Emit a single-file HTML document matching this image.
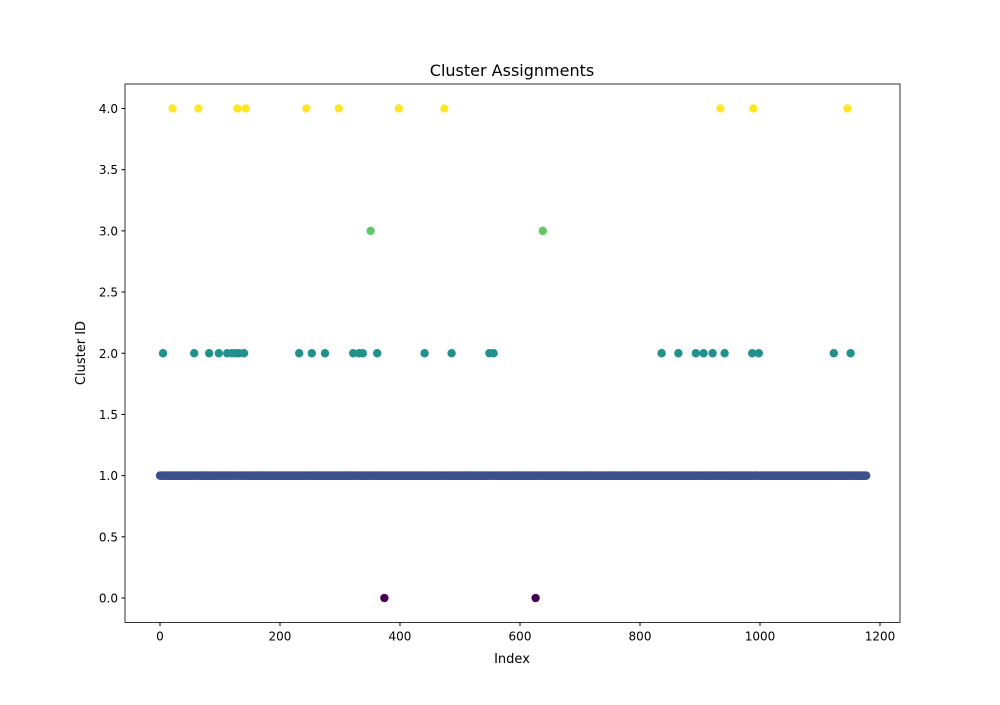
<!DOCTYPE html>
<html><head><meta charset="utf-8"><style>
body{margin:0;background:#fff;}
svg text{font-family:"DejaVu Sans","Liberation Sans",sans-serif;fill:#000;}
</style></head><body>
<svg id="chart" width="1000" height="700" xmlns="http://www.w3.org/2000/svg">
<rect width="1000" height="700" fill="#fff"/>
<text x="512" y="76" text-anchor="middle" font-size="16">Cluster Assignments</text>
<g id="points"></g>
<g id="axes"></g>
<text x="512" y="663" text-anchor="middle" font-size="13">Index</text>
<text transform="translate(85,353) rotate(-90)" text-anchor="middle" font-size="13">Cluster ID</text>
</svg>
<script>
const nPoints = 1178;
const defaultCluster = 1;
const cluster4Idx = [21,64,129,143,244,298,398,474,934,989,1146];
const cluster3Idx = [351,638];
const cluster2Idx = [5,57,82,98,112,120,127,132,140,232,253,275,322,332,338,362,441,486,549,556,836,864,893,906,921,941,987,998,1123,1151];
const cluster0Idx = [374,626];
const xTicks = [0,200,400,600,800,1000,1200];
const yTicks = [0,0.5,1,1.5,2,2.5,3,3.5,4];
const colors = ['#440154','#3b528b','#21918c','#5ec962','#fde725'];

const L=125,R=900,T=84,B=622.5;
const xmin=-58.33,xmax=1233.33,ymin=-0.2,ymax=4.2;
const X=v=>L+(v-xmin)/(xmax-xmin)*(R-L);
const Y=v=>B-(v-ymin)/(ymax-ymin)*(B-T);
const NS='http://www.w3.org/2000/svg';
const labels=new Array(nPoints).fill(defaultCluster);
cluster2Idx.forEach(i=>labels[i]=2);
cluster4Idx.forEach(i=>labels[i]=4);
cluster3Idx.forEach(i=>labels[i]=3);
cluster0Idx.forEach(i=>labels[i]=0);
const pg=document.getElementById('points');
for(let i=0;i<nPoints;i++){
  const c=document.createElementNS(NS,'circle');
  c.setAttribute('cx',X(i));c.setAttribute('cy',Y(labels[i]));c.setAttribute('r',4.2);
  c.setAttribute('fill',colors[labels[i]]);
  
  
  pg.appendChild(c);
}
const ag=document.getElementById('axes');
const fr=document.createElementNS(NS,'rect');
fr.setAttribute('x',L);fr.setAttribute('y',T);fr.setAttribute('width',R-L);fr.setAttribute('height',B-T);
fr.setAttribute('fill','none');fr.setAttribute('stroke','#000');fr.setAttribute('stroke-width','0.8');


ag.appendChild(fr);
xTicks.forEach(t=>{
  const l=document.createElementNS(NS,'line');
  l.setAttribute('x1',X(t));l.setAttribute('x2',X(t));l.setAttribute('y1',B);l.setAttribute('y2',B+3.5);l.setAttribute('stroke','#000');
  
  
  ag.appendChild(l);
  const tx=document.createElementNS(NS,'text');
  tx.setAttribute('x',X(t));tx.setAttribute('y',B+18);tx.setAttribute('text-anchor','middle');tx.setAttribute('font-size','12');
  tx.textContent=t;
  
  
  ag.appendChild(tx);
});
yTicks.forEach(t=>{
  const l=document.createElementNS(NS,'line');
  l.setAttribute('x1',L-3.5);l.setAttribute('x2',L);l.setAttribute('y1',Y(t));l.setAttribute('y2',Y(t));l.setAttribute('stroke','#000');
  
  
  ag.appendChild(l);
  const tx=document.createElementNS(NS,'text');
  tx.setAttribute('x',L-7);tx.setAttribute('y',Y(t)+4.5);tx.setAttribute('text-anchor','end');tx.setAttribute('font-size','12');
  tx.textContent=t.toFixed(1);
  
  
  ag.appendChild(tx);
});
</script>
</body></html>
